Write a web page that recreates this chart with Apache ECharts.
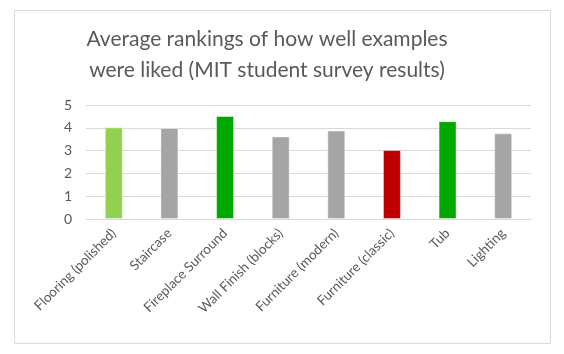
<!DOCTYPE html>
<html>
<head>
<meta charset="utf-8">
<script src="https://cdn.jsdelivr.net/npm/echarts@6/dist/echarts.min.js"></script>
<style>
  html, body { margin: 0; padding: 0; background: #fff; }
  #chart { width: 564px; height: 354px; }
</style>
</head>
<body>
<div id="chart"></div>
<script>
// categories and average rankings
const categories = [
  'Flooring (polished)', 'Staircase', 'Fireplace Surround', 'Wall Finish (blocks)',
  'Furniture (modern)', 'Furniture (classic)', 'Tub', 'Lighting'
]
const rankings = [4.02, 3.99, 4.52, 3.62, 3.88, 3.03, 4.29, 3.76]
const barColors = ['#92d050', '#a5a5a5', '#00a800', '#a5a5a5', '#a5a5a5', '#c00000', '#00a800', '#a5a5a5']
const yTicks = [0, 1, 2, 3, 4, 5]

const chart = echarts.init(document.getElementById('chart'))

const option = {
  animation: false,
  textStyle: { fontFamily: 'Lato' },
  graphic: [{
    type: 'rect',
    shape: { x: 14.5, y: 10.5, width: 536, height: 333 },
    style: { fill: '#fff', stroke: '#d9d9d9', lineWidth: 1 },
    z: -10
  }],
  title: {
    text: 'Average rankings of how well examples\nwere liked (MIT student survey results)',
    left: 262,
    top: 19,
    textAlign: 'center',
    textStyle: {
      fontFamily: 'Lato',
      fontSize: 21,
      fontWeight: 'normal',
      color: '#595959',
      lineHeight: 31
    }
  },
  grid: {
    left: 86,
    right: 33,
    top: 105,
    bottom: 135,
    containLabel: false
  },
  xAxis: {
    type: 'category',
    data: categories,
    axisLine: { lineStyle: { color: '#d9d9d9', width: 1 } },
    axisTick: { show: false },
    axisLabel: {
      rotate: 45,
      interval: 0,
      color: '#595959',
      fontSize: 13.5,
      margin: 12
    }
  },
  yAxis: {
    type: 'value',
    min: 0,
    max: yTicks[yTicks.length - 1],
    interval: 1,
    axisLine: { show: false },
    axisTick: { show: false },
    axisLabel: { color: '#595959', fontSize: 14, margin: 14 },
    splitLine: { lineStyle: { color: '#d9d9d9', width: 1 } }
  },
  series: [{
    type: 'bar',
    barWidth: 18,
    data: rankings.map((v, i) => ({
      value: v,
      itemStyle: { color: barColors[i], borderColor: 'rgba(255,255,255,0.45)', borderWidth: 1 }
    }))
  }]
}

chart.setOption(option)
</script>
</body>
</html>
